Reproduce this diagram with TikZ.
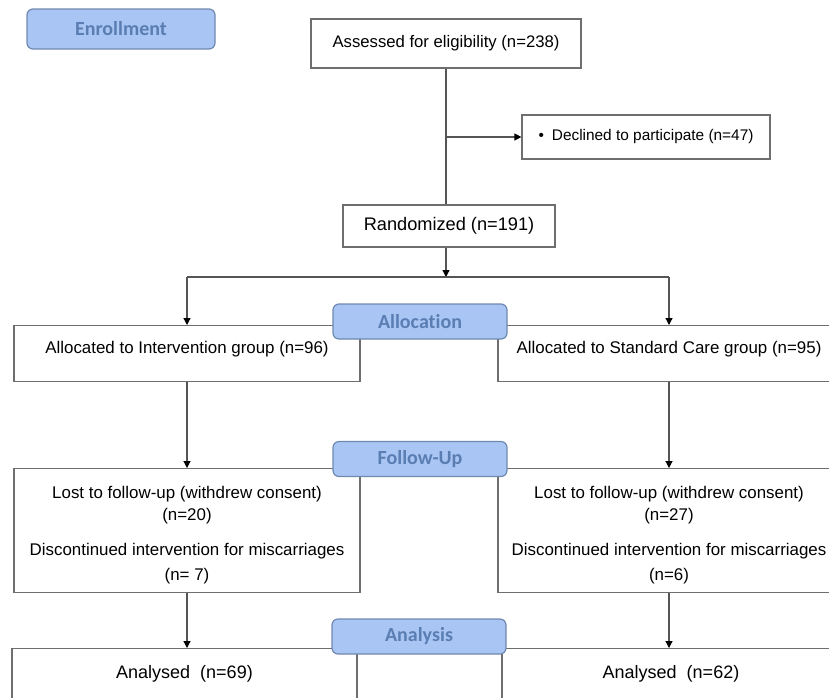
\documentclass[tikz,border=0pt]{standalone}
\usepackage{fontspec}
\setmainfont{Liberation Sans}
\newfontfamily\stagefont{Carlito}[Ligatures=NoCommon]
\usetikzlibrary{arrows.meta}
\definecolor{stagefill}{HTML}{A8C5F4}
\definecolor{stageedge}{HTML}{7088B0}
\definecolor{stagetext}{HTML}{5A7DB2}
\definecolor{boxedge}{HTML}{6E6E6E}
\definecolor{linegray}{HTML}{555555}
\newcommand{\fsz}[1]{\fontsize{#1}{22}\selectfont}

\begin{document}
\begin{tikzpicture}[x=1pt, y=-1pt, >={Triangle[length=7pt, width=7pt, color=black]},
	box/.style={draw=boxedge, line width=1.2pt, fill=white, inner sep=0pt, align=center},
	stage/.style={draw=stageedge, line width=1.2pt, fill=stagefill, rounded corners=6pt, minimum width=174pt, minimum height=35pt, inner sep=0pt, text=stagetext, font=\stagefont\bfseries\fontsize{20}{24}\selectfont},
	link/.style={draw=linegray, line width=1.2pt}]
	\useasboundingbox (0,0) rectangle (829,697);
	\clip (0,0) rectangle (829,697);
	% enrollment
	\node[stage, minimum width=188pt, minimum height=40pt] (enroll) at (121,29) {Enrollment};
	\node[box, minimum width=270pt, minimum height=49pt, font=\fsz{16.7}] (assess) at (446,43.5) {Assessed for eligibility (n=238)};
	\node[box, minimum width=248pt, minimum height=44pt, font=\fsz{15.4}] (decl) at (646,137) {\textbullet\hspace{8pt}Declined to participate (n=47)};
	\node[box, minimum width=212pt, minimum height=42pt, font=\fsz{18.2}] (rand) at (449,226) {Randomized (n=191)};
	\coordinate (split) at (446,277);
	\draw[link] (assess.south) -- (assess.south |- rand.north);
	\draw[link, ->] (assess.south |- decl.west) -- (decl.west);
	\draw[link, ->] (split |- rand.south) -- (split);
	% allocation
	\node[box, anchor=north, minimum width=346pt, text height=27.5pt, text depth=28.5pt, font=\fsz{16.9}] (allocL) at (187,325) {Allocated to Intervention group (n=96)};
	\node[box, anchor=north, minimum width=342pt, text height=27.5pt, text depth=28.5pt, font=\fsz{16.9}] (allocR) at (669,325) {Allocated to Standard Care group (n=95)};
	\draw[link] (allocL.north |- split) -- (allocR.north |- split);
	\draw[link, ->] (allocL.north |- split) -- (allocL.north);
	\draw[link, ->] (allocR.north |- split) -- (allocR.north);
	% follow-up
	\node[box, anchor=north, minimum width=346pt, text height=112pt, text depth=12pt, font=\fsz{16.9}] (fuL) at (187,468) {Lost to follow-up (withdrew consent)\\(n=20)\\[13pt]Discontinued intervention for miscarriages\\[3pt](n= 7)};
	\node[box, anchor=north, minimum width=342pt, text height=112pt, text depth=12pt, font=\fsz{16.9}] (fuR) at (669,468) {Lost to follow-up (withdrew consent)\\(n=27)\\[13pt]Discontinued intervention for miscarriages\\[3pt](n=6)};
	\draw[link, ->] (allocL.south) -- (fuL.north);
	\draw[link, ->] (allocR.south) -- (fuR.north);
	% analysis
	\node[box, anchor=north, minimum width=345pt, text height=29.5pt, text depth=45pt, font=\fsz{18}] (anL) at (184.5,648) {Analysed\ \ (n=69)};
	\node[box, anchor=north, minimum width=338pt, text height=29.5pt, text depth=45pt, font=\fsz{18}] (anR) at (671,648) {Analysed\ \ (n=62)};
	\draw[link, ->] (fuL.south) -- (fuL.south |- anL.north);
	\draw[link, ->] (fuR.south) -- (fuR.south |- anR.north);
	% stage labels on top
	\node[stage] (allocation) at (420,321.5) {Allocation};
	\node[stage] (followup) at (420,459) {Follow-Up};
	\node[stage] (analysis) at (419,636.5) {Analysis};
\end{tikzpicture}
\end{document}
